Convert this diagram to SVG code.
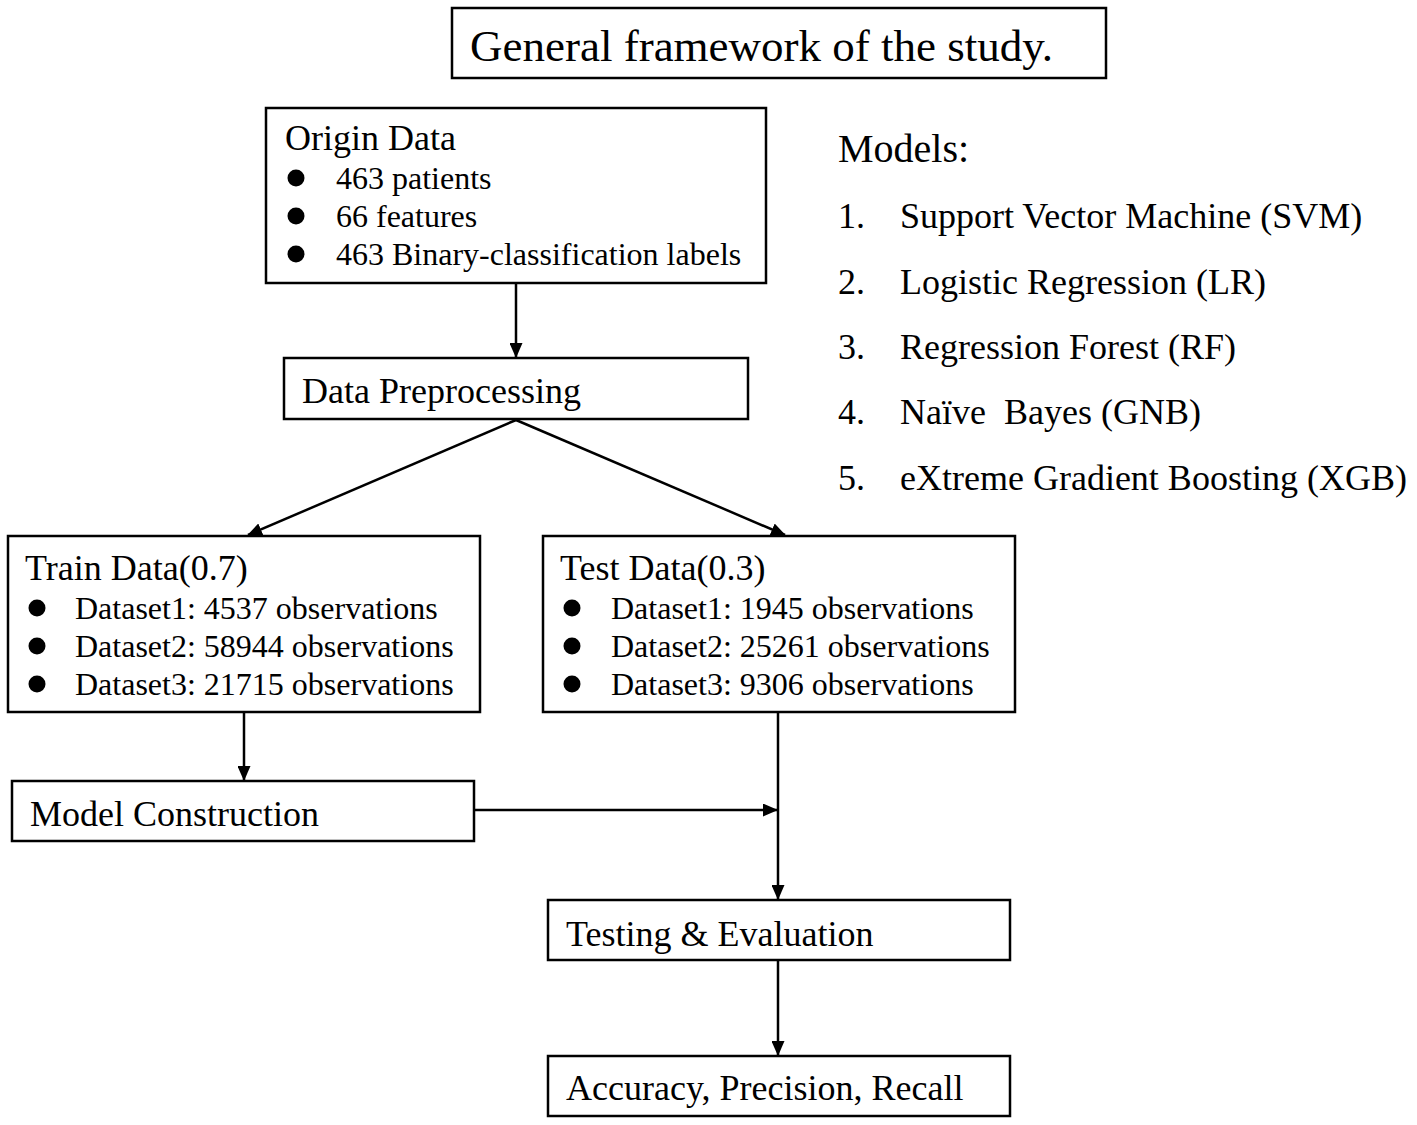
<svg xmlns="http://www.w3.org/2000/svg" width="1417" height="1125" viewBox="0 0 1417 1125">
<style>
.box{fill:#fff;stroke:#000;stroke-width:2.5}
.t{font-family:"Liberation Serif","Times New Roman",serif;fill:#000}
.h{font-size:36px}
.b{font-size:32px}
.m{font-size:36px}
.c{stroke:#000;stroke-width:2.5;fill:none}
</style>
<defs>
<marker id="ah" markerWidth="15" markerHeight="13" refX="14" refY="6.5" orient="auto" markerUnits="userSpaceOnUse" viewBox="0 0 15 13">
<path d="M0,0 L15,6.5 L0,13 Z" fill="#000"/>
</marker>
</defs>
<rect width="1417" height="1125" fill="#fff"/>
<g id="title">
<rect class="box" x="452" y="8" width="654" height="70"/>
<text class="t" x="470" y="61" font-size="45">General framework of the study.</text>
</g>
<g id="origin">
<rect class="box" x="266" y="108" width="500" height="175"/>
<text class="t h" x="285" y="150">Origin Data</text>
<circle cx="296" cy="178" r="8.5"/><circle cx="296" cy="216" r="8.5"/><circle cx="296" cy="254" r="8.5"/>
<text class="t b" x="336" y="189">463 patients</text>
<text class="t b" x="336" y="227">66 features</text>
<text class="t b" x="336" y="265">463 Binary-classification labels</text>
</g>
<g id="preproc">
<rect class="box" x="284" y="358" width="464" height="61"/>
<text class="t h" x="302" y="403">Data Preprocessing</text>
</g>
<g id="train">
<rect class="box" x="8" y="536" width="472" height="176"/>
<text class="t h" x="25" y="580">Train Data(0.7)</text>
<circle cx="37" cy="608" r="8.5"/><circle cx="37" cy="646" r="8.5"/><circle cx="37" cy="684" r="8.5"/>
<text class="t b" x="75" y="619">Dataset1: 4537 observations</text>
<text class="t b" x="75" y="657">Dataset2: 58944 observations</text>
<text class="t b" x="75" y="695">Dataset3: 21715 observations</text>
</g>
<g id="test">
<rect class="box" x="543" y="536" width="472" height="176"/>
<text class="t h" x="560" y="580">Test Data(0.3)</text>
<circle cx="572" cy="608" r="8.5"/><circle cx="572" cy="646" r="8.5"/><circle cx="572" cy="684" r="8.5"/>
<text class="t b" x="611" y="619">Dataset1: 1945 observations</text>
<text class="t b" x="611" y="657">Dataset2: 25261 observations</text>
<text class="t b" x="611" y="695">Dataset3: 9306 observations</text>
</g>
<g id="model">
<rect class="box" x="12" y="781" width="462" height="60"/>
<text class="t h" x="30" y="826">Model Construction</text>
</g>
<g id="testing">
<rect class="box" x="548" y="900" width="462" height="60"/>
<text class="t h" x="566" y="946">Testing &amp; Evaluation</text>
</g>
<g id="metrics">
<rect class="box" x="548" y="1056" width="462" height="60"/>
<text class="t h" x="566" y="1100">Accuracy, Precision, Recall</text>
</g>
<g id="models">
<text class="t" x="838" y="162" font-size="40">Models:</text>
<text class="t m" x="838" y="228">1.</text><text class="t m" x="900" y="228">Support Vector Machine (SVM)</text>
<text class="t m" x="838" y="294">2.</text><text class="t m" x="900" y="294">Logistic Regression (LR)</text>
<text class="t m" x="838" y="359">3.</text><text class="t m" x="900" y="359">Regression Forest (RF)</text>
<text class="t m" x="838" y="424">4.</text><text class="t m" x="900" y="424" xml:space="preserve">Naïve  Bayes (GNB)</text>
<text class="t m" x="838" y="490">5.</text><text class="t m" x="900" y="490">eXtreme Gradient Boosting (XGB)</text>
</g>
<g id="connectors">
<line class="c" x1="516" y1="283" x2="516" y2="357" marker-end="url(#ah)"/>
<line class="c" x1="516" y1="420" x2="248" y2="535" marker-end="url(#ah)"/>
<line class="c" x1="516" y1="420" x2="785" y2="535" marker-end="url(#ah)"/>
<line class="c" x1="244" y1="712" x2="244" y2="780" marker-end="url(#ah)"/>
<line class="c" x1="474" y1="810" x2="777" y2="810" marker-end="url(#ah)"/>
<line class="c" x1="778" y1="712" x2="778" y2="899" marker-end="url(#ah)"/>
<line class="c" x1="778" y1="960" x2="778" y2="1055" marker-end="url(#ah)"/>
</g>
</svg>
